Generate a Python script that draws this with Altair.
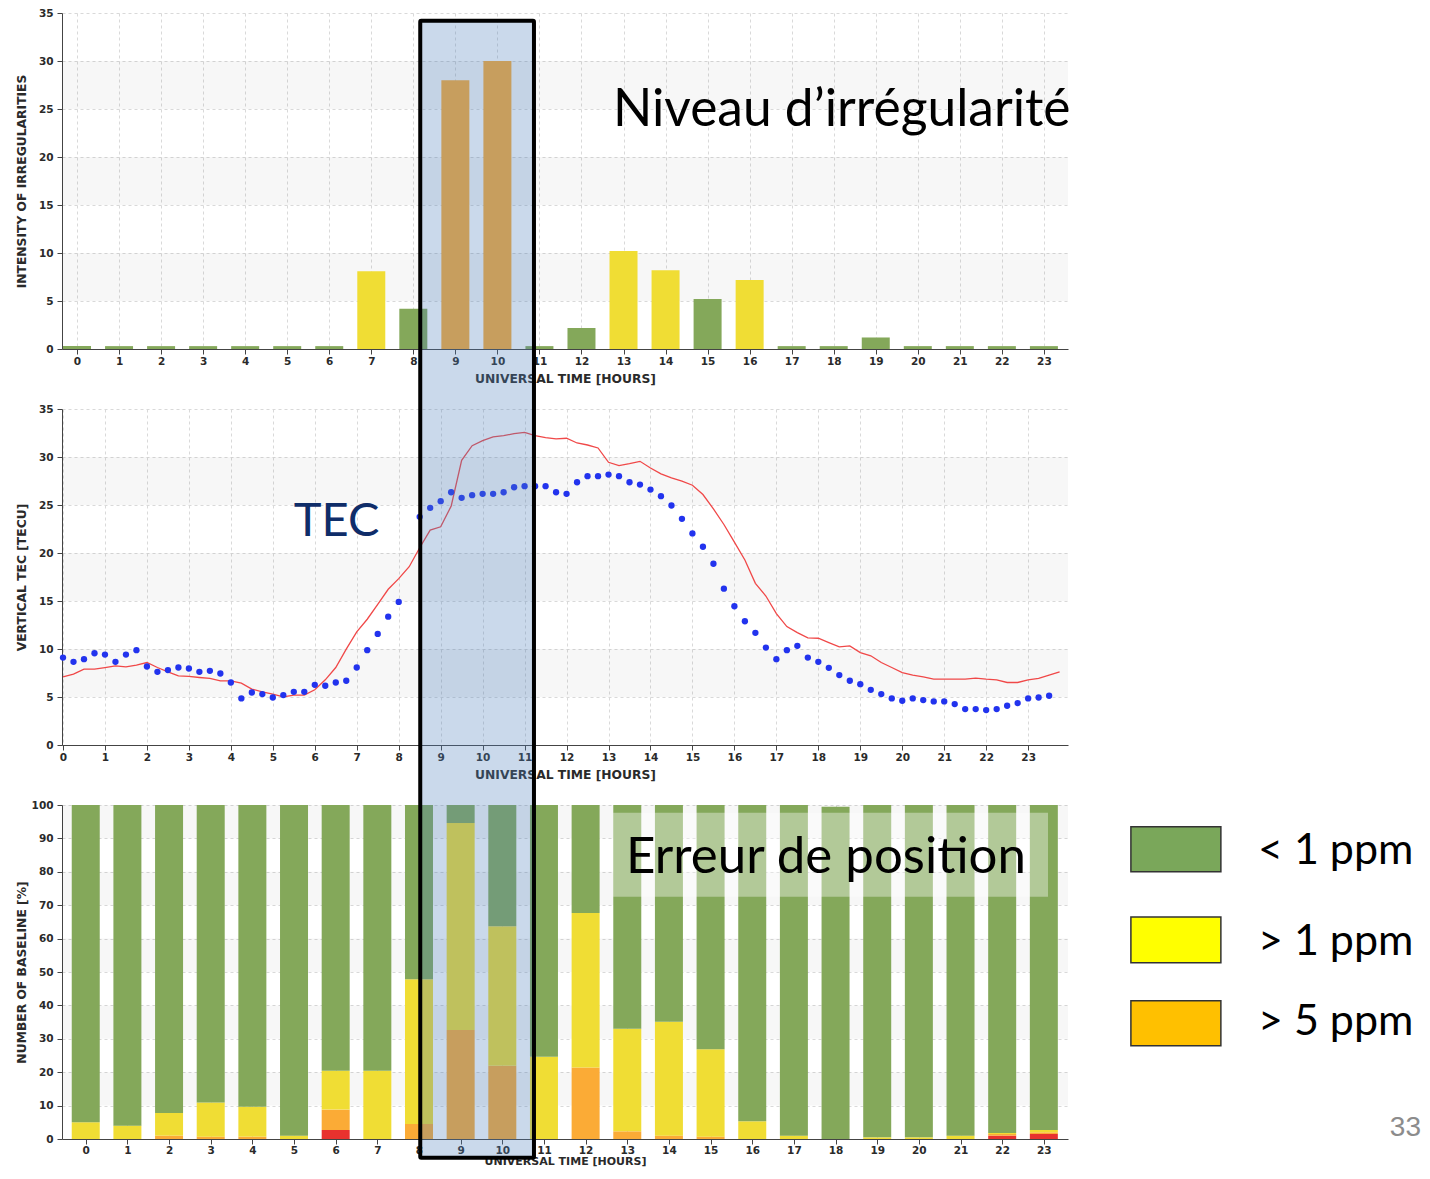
import altair as alt
import pandas as pd

# ---------------- data ----------------
HOURS = list(range(24))

# panel 1: intensity of irregularities per hour
IRREG_VALUES = [0.3, 0.3, 0.3, 0.3, 0.3, 0.3, 0.3, 8.1, 4.2, 28.0, 30.0, 0.3,
                2.2, 10.2, 8.2, 5.2, 7.2, 0.3, 0.3, 1.2, 0.3, 0.3, 0.3, 0.3]
IRREG_LEVEL = ["low"] * 7 + ["mid", "low", "high", "high", "low", "low", "mid",
                            "mid", "low", "mid"] + ["low"] * 7

# panel 2: vertical TEC (observed dots every 15 min, model line)
TEC_OBS_HOURS = [i * 0.25 for i in range(95)]
TEC_OBS = [9.11, 8.66, 8.94, 9.56, 9.42, 8.66, 9.42, 9.88,
           8.18, 7.62, 7.80, 8.07, 7.97, 7.62, 7.73, 7.45,
           6.51, 4.85, 5.47, 5.30, 4.95, 5.20, 5.54, 5.54,
           6.27, 6.17, 6.51, 6.69, 8.07, 9.88, 11.57, 13.37,
           14.90, None, 23.77, 24.70, 25.40, 26.33, 25.75, 26.02,
           26.16, 26.16, 26.33, 26.85, 26.96, 26.96, 26.96, 26.33,
           26.16, 27.37, 28.00, 28.00, 28.17, 28.00, 27.37, 27.13,
           26.61, 25.92, 24.95, 23.56, 22.04, 20.65, 18.88, 16.28,
           14.45, 12.89, 11.68, 10.15, 8.94, 9.88, 10.33, 9.11,
           8.66, 8.04, 7.28, 6.69, 6.34, 5.75, 5.30, 4.85,
           4.61, 4.85, 4.68, 4.54, 4.54, 4.26, 3.74, 3.74,
           3.64, 3.74, 4.09, 4.37, 4.85, 4.95, 5.13]
TEC_MODEL_HOURS = [i * 0.25 for i in range(96)]
TEC_MODEL = [7.10, 7.38, 7.90, 7.90, 8.07, 8.25, 8.14, 8.32,
             8.59, 8.07, 7.62, 7.21, 7.14, 7.03, 6.93, 6.69,
             6.69, 6.44, 5.82, 5.54, 5.30, 5.02, 5.20, 5.20,
             5.75, 6.79, 8.07, 9.98, 11.78, 13.10, 14.66, 16.22,
             17.33, 18.57, 20.55, 22.38, 22.73, 24.88, 29.66, 31.18,
             31.70, 32.09, 32.22, 32.43, 32.57, 32.22, 32.02, 31.88,
             31.95, 31.46, 31.25, 30.94, 29.45, 29.11, 29.31, 29.55,
             28.86, 28.24, 27.82, 27.48, 27.06, 26.09, 24.60, 22.97,
             21.14, 19.27, 16.84, 15.52, 13.69, 12.34, 11.71, 11.16,
             11.12, 10.67, 10.22, 10.33, 9.63, 9.29, 8.59, 8.07,
             7.55, 7.28, 7.10, 6.86, 6.86, 6.86, 6.86, 6.96,
             6.86, 6.79, 6.51, 6.51, 6.79, 6.93, 7.28, 7.62]

# panel 3: share of baselines per error class (%)
ERR_RED = [0, 0, 0, 0, 0, 0, 2.7, 0, 0, 0, 0, 0,
           0, 0, 0, 0, 0, 0, 0, 0, 0, 0, 1.0, 1.5]
ERR_ORANGE = [0, 0, 1.0, 0.7, 0.7, 0, 6.1, 0, 4.5, 32.6, 21.9, 0,
              21.4, 2.3, 1.0, 0.7, 0, 0, 0, 0, 0, 0, 0.5, 0.5]
ERR_YELLOW = [5.0, 4.0, 6.8, 10.2, 8.95, 1.0, 11.6, 20.4, 43.3, 62.0, 41.8, 24.6,
              46.3, 30.7, 34.1, 26.2, 5.3, 1.0, 0, 0.5, 0.5, 1.0, 0.3, 0.7]
ERR_GREEN = [95.0, 96.0, 92.2, 89.1, 90.35, 99.0, 79.6, 79.6, 52.2, 5.4, 36.3, 75.4,
             32.3, 67.0, 64.9, 73.1, 94.7, 99.0, 99.5, 99.5, 99.5, 99.0, 98.2, 97.3]

# annotations (positions in the hour / % units of the bottom panel)
HIGHLIGHT_HOURS = [8.03, 10.76]
HIGHLIGHT_PCT = [-5.6, 334.8]
LEGEND_LABELS = ["< 1 ppm", "> 1 ppm", "> 5 ppm"]
LEGEND_COLORS = ["#7aa75a", "#ffff00", "#ffc000"]

# ---------------- styling ----------------
GREEN, YELLOW, ORANGE, RED = "#84a85a", "#f0dd34", "#fbab36", "#e8322e"
LEVEL_COLOR = {"low": GREEN, "mid": YELLOW, "high": ORANGE}
CLASS_COLOR = {"red": RED, "orange": ORANGE, "yellow": YELLOW, "green": GREEN}
W = 1006
AX_FONT = "DejaVu Sans"

def x_axis(title_pad=6, label_pad=2, title_size=12.3):
    return alt.Axis(values=HOURS, format="d", title="UNIVERSAL TIME [HOURS]",
                    grid=True, labelFlush=False, labelOverlap=False,
                    titlePadding=title_pad, tickSize=5, labelPadding=label_pad,
                    titleFontSize=title_size)

def y_axis(title, values):
    return alt.Axis(values=values, tickCount=len(values), title=title, grid=True,
                    titleX=-34, labelOverlap=False, tickSize=5, labelPadding=4)

def Yenc(field, scale, title, values):
    return alt.Y(field, scale=scale, axis=y_axis(title, values))

def stripes(bands, yscale, title, values):
    df = pd.DataFrame({"y0": [b[0] for b in bands], "y1": [b[1] for b in bands]})
    return alt.Chart(df).mark_rect(color="#000000", opacity=0.03).encode(
        x=alt.value(0), x2=alt.value(W),
        y=Yenc("y0:Q", yscale, title, values), y2="y1:Q")

# ---------------- panel 1 ----------------
T1 = "INTENSITY OF IRREGULARITIES"
V1 = list(range(0, 36, 5))
X1 = alt.Scale(domain=[-0.357, 23.573], nice=False, zero=False, padding=0)
Y1 = alt.Scale(domain=[0, 35], nice=False)
df1 = pd.DataFrame({"hour": HOURS, "value": IRREG_VALUES,
                    "col": [LEVEL_COLOR[l] for l in IRREG_LEVEL]})
bars1 = alt.Chart(df1).mark_bar(size=28).encode(
    x=alt.X("hour:Q", scale=X1, axis=x_axis()),
    y=Yenc("value:Q", Y1, T1, V1),
    color=alt.Color("col:N", scale=None))
txt1 = alt.Chart(pd.DataFrame({"x": [12.75], "y": [23.2],
                               "t": ["Niveau d\u2019irrégularité"]})).mark_text(
    align="left", baseline="alphabetic", font="Lato", fontSize=51.5, color="#000000"
).encode(x=alt.X("x:Q", scale=X1), y=Yenc("y:Q", Y1, T1, V1), text="t:N")
panel1 = alt.layer(stripes([(5, 10), (15, 20), (25, 30)], Y1, T1, V1), bars1, txt1
                   ).properties(width=W, height=336)

# ---------------- panel 2 ----------------
T2 = "VERTICAL TEC [TECU]"
X2 = alt.Scale(domain=[-0.024, 23.95], nice=False, zero=False, padding=0)
Y2 = alt.Scale(domain=[0, 35], nice=False)
df_obs = pd.DataFrame({"hour": TEC_OBS_HOURS, "tec": TEC_OBS}).dropna()
df_mod = pd.DataFrame({"hour": TEC_MODEL_HOURS, "tec": TEC_MODEL})
line2 = alt.Chart(df_mod).mark_line(color="#f04848", strokeWidth=1.3).encode(
    x=alt.X("hour:Q", scale=X2, axis=x_axis()),
    y=Yenc("tec:Q", Y2, T2, V1))
dots2 = alt.Chart(df_obs).mark_circle(color="#2233ee", size=40, opacity=1).encode(
    x=alt.X("hour:Q", scale=X2), y=Yenc("tec:Q", Y2, T2, V1))
txt2 = alt.Chart(pd.DataFrame({"x": [5.5], "y": [21.8], "t": ["TEC"]})).mark_text(
    align="left", baseline="alphabetic", font="Lato", fontSize=47, color="#0f2d69"
).encode(x=alt.X("x:Q", scale=X2), y=Yenc("y:Q", Y2, T2, V1), text="t:N")
panel2 = alt.layer(stripes([(5, 10), (15, 20), (25, 30)], Y2, T2, V1), line2, dots2, txt2
                   ).properties(width=W, height=336)

# ---------------- panel 3 ----------------
T3 = "NUMBER OF BASELINE [%]"
V3 = list(range(0, 101, 10))
X3 = alt.Scale(domain=[-0.57, 23.58], nice=False, zero=False, padding=0)
Y3 = alt.Scale(domain=[0, 100], nice=False)
rows = []
for h in HOURS:
    base = 0.0
    for cls, arr in [("red", ERR_RED), ("orange", ERR_ORANGE),
                     ("yellow", ERR_YELLOW), ("green", ERR_GREEN)]:
        v = arr[h]
        if v > 0:
            rows.append({"hour": h, "col": CLASS_COLOR[cls], "y0": base, "y1": base + v})
            base += v
df3 = pd.DataFrame(rows)
bars3 = alt.Chart(df3).mark_bar(size=28).encode(
    x=alt.X("hour:Q", scale=X3, axis=x_axis(title_pad=0, label_pad=1, title_size=11)),
    y=Yenc("y0:Q", Y3, T3, V3), y2="y1:Q",
    color=alt.Color("col:N", scale=None))
wbox = alt.Chart(pd.DataFrame({"x0": [12.66], "x1": [23.1], "y0": [72.5], "y1": [97.7]})
                 ).mark_rect(color="#ffffff", opacity=0.38).encode(
    x=alt.X("x0:Q", scale=X3), x2="x1:Q", y=Yenc("y0:Q", Y3, T3, V3), y2="y1:Q")
txt3 = alt.Chart(pd.DataFrame({"x": [12.97], "y": [79.7], "t": ["Erreur de position"]})
                 ).mark_text(align="left", baseline="alphabetic", font="Lato",
                             fontSize=51, color="#000000").encode(
    x=alt.X("x:Q", scale=X3), y=Yenc("y:Q", Y3, T3, V3), text="t:N")
hl = alt.Chart(pd.DataFrame({"x0": [HIGHLIGHT_HOURS[0]], "x1": [HIGHLIGHT_HOURS[1]],
                             "y0": [HIGHLIGHT_PCT[0]], "y1": [HIGHLIGHT_PCT[1]]})
               ).mark_rect(fill="#4f81bd", fillOpacity=0.3, stroke="#000000",
                           strokeWidth=4, strokeOpacity=1, cornerRadius=1).encode(
    x=alt.X("x0:Q", scale=X3), x2="x1:Q", y=Yenc("y0:Q", Y3, T3, V3), y2="y1:Q")
leg_df = pd.DataFrame({"label": LEGEND_LABELS, "color": LEGEND_COLORS,
                       "x0": [25.09] * 3, "x1": [27.25] * 3,
                       "ytop": [93.5, 66.5, 41.4], "ybot": [80.0, 52.8, 27.9],
                       "ytxt": [86.1, 59.1, 35.1], "xtxt": [28.14] * 3})
leg_rect = alt.Chart(leg_df).mark_rect(stroke="#333333", strokeWidth=1.5).encode(
    x=alt.X("x0:Q", scale=X3), x2="x1:Q", y=Yenc("ybot:Q", Y3, T3, V3), y2="ytop:Q",
    fill=alt.Fill("color:N", scale=None))
leg_txt = alt.Chart(leg_df).mark_text(align="left", baseline="middle", font="Lato",
                                      fontSize=43, color="#000000").encode(
    x=alt.X("xtxt:Q", scale=X3), y=Yenc("ytxt:Q", Y3, T3, V3), text="label:N")
page = alt.Chart(pd.DataFrame({"x": [31.68], "y": [3.4], "t": ["33"]})).mark_text(
    align="center", baseline="middle", font="Liberation Sans", fontSize=28,
    color="#8c8c8c").encode(x=alt.X("x:Q", scale=X3), y=Yenc("y:Q", Y3, T3, V3), text="t:N")
panel3 = alt.layer(stripes([(10, 20), (30, 40), (50, 60), (70, 80), (90, 100)], Y3, T3, V3),
                   bars3, wbox, txt3, hl, leg_rect, leg_txt, page).properties(
    width=W, height=334)

chart = alt.vconcat(panel1, panel2, panel3, spacing=60, bounds="flush").properties(
    padding={"left": 7, "top": 0, "right": 0, "bottom": 0}
).configure_axis(
    labelFont=AX_FONT, labelFontSize=10.5, labelFontWeight="bold", labelColor="#2a2a2a",
    titleFont=AX_FONT, titleFontSize=12.3, titleFontWeight="bold", titleColor="#2a2a2a",
    domainColor="#444444", tickColor="#444444",
    gridColor="#d9d9d9", gridDash=[3, 3], gridWidth=1
).configure_view(stroke=None)

chart.save("out.html", embed_options={"renderer": "svg", "actions": False})
